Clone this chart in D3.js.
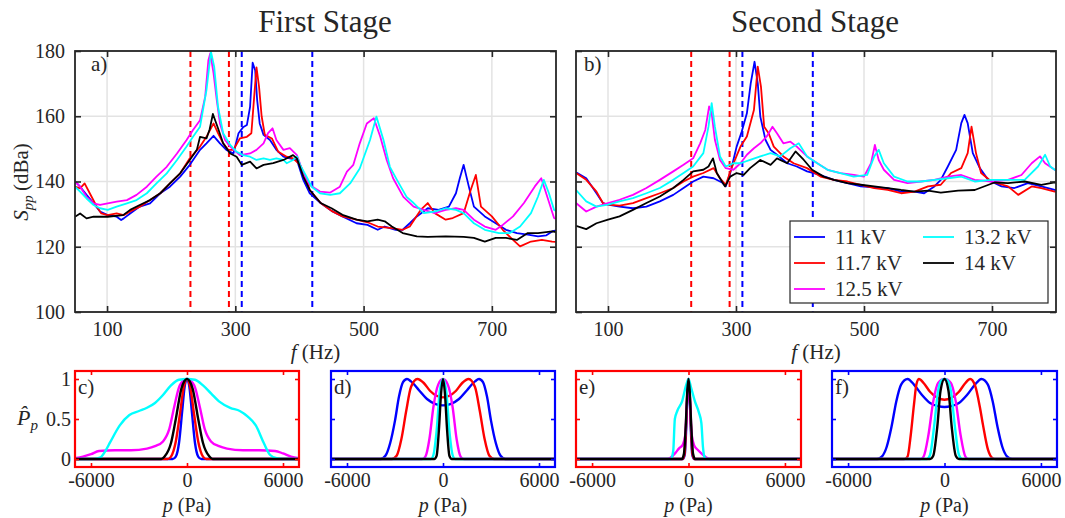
<!DOCTYPE html>
<html><head><meta charset="utf-8">
<script src="https://cdn.jsdelivr.net/npm/d3@7"></script>
<style>
body{margin:0;background:#fff}
svg{display:block}
svg text{font-family:"Liberation Serif","DejaVu Serif","Tinos","Times New Roman","Times","Nimbus Roman","FreeSerif","Noto Serif",serif;fill:#262626}
</style>
</head><body>
<svg id="chart" width="1065" height="518"></svg>
<script>
// ---------------- DATA ----------------
const seriesNames = ['11 kV','11.7 kV','12.5 kV','13.2 kV','14 kV'];
const seriesColors = ['#0000ff','#ff0000','#ff00ff','#00ffff','#000000'];
const freqTicks = [100,300,500,700];
const splTicks = [100,120,140,160,180];
const pTicks = [-6000,0,6000];
const pdfTicks = [0,0.5,1];
const redBand = [230,290];
const blueBand = [310,420];

// Panel a (First Stage) spectra: [f (Hz), S_pp (dBa)]
const aBlue = [[50,140],[58,138.4],[68,135.9],[79,133.3],[89,130.8],[101,129.7],[115,129.2],[122,128.2],[126,128.7],[136,130.2],[151,132.3],[167,133.3],[183,136.4],[198,138.4],[214,141.5],[229,145.1],[245,149.7],[255,151.7],[266,154],[276,151.7],[286,149.7],[297,148.6],[305,154.8],[312,156.6],[318,157.3],[323,162.9],[327,176.4],[331,174],[334,165],[338,157.8],[344,154.3],[354,152.7],[364,149.7],[375,147.6],[385,147.1],[396,146.6],[406,140.5],[416,136.4],[433,133.4],[450,131],[467,129.3],[489,127.2],[506,126.7],[522,125.2],[533,126.2],[550,125.2],[561,125.2],[572,127.2],[583,129.3],[600,131.8],[617,131.3],[633,132.3],[644,136.4],[650,141],[656,145.1],[664,138.5],[672,132.3],[689,129.3],[706,127.2],[722,125.2],[739,124.2],[756,123.7],[772,123.2],[785,123.5],[794,124.7],[800,125]];
const aRed = [[50,138.4],[58,137.9],[65,139.4],[73,136.4],[84,132.3],[91,130.2],[101,129.7],[115,130.2],[126,129.7],[136,130.8],[151,132.3],[167,134.3],[183,136.4],[198,139.4],[214,142.5],[229,147.1],[245,150.7],[255,153.7],[266,157.8],[273,154.8],[281,151.7],[289,149.7],[297,149.7],[307,153.2],[318,153.7],[325,154.8],[329,165],[333,175],[337,169],[341,160],[346,154.3],[357,153.2],[367,149.1],[380,147.6],[390,147.1],[401,145.1],[411,140.5],[416,137.4],[433,133.4],[450,131],[467,129.3],[489,128.3],[506,127.5],[522,126.2],[544,125.7],[561,125.2],[572,126.2],[589,131.3],[600,133.4],[611,130.3],[628,128.3],[639,128.8],[656,130.3],[667,137.4],[675,142],[683,132.3],[700,129.3],[717,125.2],[733,122.1],[744,120.1],[761,121.6],[778,122.1],[794,121.6],[800,121.5]];
const aMag = [[50,140],[58,138.4],[68,135.3],[79,133.3],[89,132.8],[101,133.3],[115,133.8],[131,134.3],[146,135.9],[162,138.4],[177,141.5],[193,144.5],[209,148.6],[224,152.7],[234,155.8],[245,158.8],[253,166],[258,177.2],[261,179.3],[266,173.2],[271,165],[276,157.8],[284,152.7],[292,150.7],[307,148.1],[323,148.6],[333,149.7],[344,151.7],[351,154.8],[358,156.3],[364,152.7],[375,149.7],[385,150.2],[396,148.1],[406,142.5],[416,138.9],[432,136.9],[448,136.6],[463,138.4],[474,143],[484,145.1],[494,151.7],[505,157.8],[516,159.4],[526,153.7],[536,146.6],[546,141],[562,135.3],[578,132.3],[594,131.3],[611,130.3],[628,131.3],[644,131.8],[656,131.3],[672,128.3],[689,126.2],[706,125.2],[717,126.7],[733,129.3],[750,133.4],[767,138.5],[777,141],[783,137.4],[797,128.8],[800,128.5]];
const aCyan = [[50,138.4],[58,136.9],[68,134.8],[79,132.8],[89,131.8],[101,131.3],[115,132.3],[131,133.3],[146,134.3],[162,136.4],[177,139.4],[193,142.5],[209,146.6],[224,150.7],[234,153.7],[245,156.8],[255,168],[262,179.8],[267,175.2],[273,162.9],[281,154.8],[292,151.2],[302,149.1],[312,148.1],[323,147.6],[333,146.6],[344,147.1],[354,146.6],[364,147.1],[375,146.6],[380,145.6],[390,146.6],[396,147.7],[401,145.1],[411,141.5],[419,138.4],[432,136.4],[448,135.9],[463,136.4],[479,139.4],[494,144],[510,152.7],[520,159.9],[531,152.7],[541,144.5],[552,140.5],[567,135.3],[578,133.4],[594,130.3],[611,130.8],[628,131.8],[644,131.3],[656,130.3],[672,127.2],[689,125.2],[711,124.2],[728,124.2],[744,126.2],[761,130.3],[772,135.4],[781,140.5],[789,136.4],[797,131.3],[800,131]];
const aBlack = [[50,129.2],[58,130.2],[68,128.7],[79,129.2],[101,129.2],[125,129.7],[136,131.3],[151,132.8],[167,134.3],[183,136.4],[198,139.4],[214,142.5],[229,146.6],[240,149.7],[245,153.7],[255,153.2],[260,156],[265,160.7],[273,156.3],[281,151.7],[292,148.6],[302,147.6],[310,145.1],[323,146.1],[333,144],[344,145.1],[359,145.6],[375,146.6],[390,148.1],[396,147.1],[406,141.5],[416,137.4],[433,133.4],[450,131.8],[467,129.8],[489,128.3],[506,127.8],[522,128.3],[533,127.8],[544,126.2],[561,124.2],[583,123.2],[600,123],[628,123.2],[656,123],[672,122.7],[689,121.6],[706,122.7],[722,122.7],[739,122.1],[756,124.2],[772,124.2],[794,124.7],[800,124.5]];

// Panel b (Second Stage) spectra
const bBlue = [[50,142.8],[66,141],[82,136.4],[92,133.4],[100,132.9],[118,132.3],[139,131.8],[160,132.3],[181,133.9],[202,135.9],[218,138],[233,140],[249,141.5],[265,141],[278,139.7],[284,138.5],[291,142.6],[301,150.7],[309,155.3],[317,160.9],[323,170.1],[329,176.7],[334,170.1],[338,159.9],[346,152.8],[354,149.7],[364,148.2],[380,145.6],[395,144.6],[411,143.1],[432,142],[453,140.5],[474,139.5],[495,138.5],[516,138.2],[537,138],[558,136.9],[579,136.9],[594,136.4],[610,138.5],[620,140.5],[631,144.6],[644,149.7],[652,157.9],[657,160.4],[662,157.9],[670,148.7],[681,144.1],[694,140.5],[715,138.5],[735,138],[756,139.5],[777,138.5],[798,137.4],[800,137.4]];
const bRed = [[50,142.6],[66,140.5],[82,136.9],[92,133.4],[100,132.9],[118,132.6],[139,133.4],[160,134.9],[181,136.4],[202,138],[218,140],[233,141.5],[249,142.6],[265,144.1],[275,141],[284,139],[294,144.6],[307,150.7],[317,153.8],[328,161.9],[334,175.2],[339,169.1],[344,156.8],[351,154.8],[359,150.7],[374,147.7],[390,145.6],[411,144.1],[432,141.5],[453,140.5],[474,140],[495,139],[516,138],[537,137.4],[558,136.4],[579,136.9],[600,138.5],[620,139],[636,142.6],[652,144.1],[662,148.7],[668,156.8],[675,148.7],[683,142.6],[699,140],[725,138.5],[741,135.9],[762,138.5],[777,138],[798,136.9],[800,136.9]];
const bMag = [[50,133.4],[66,130.8],[82,132.3],[100,133.4],[118,134.4],[139,135.9],[160,138],[181,140.5],[202,143.1],[218,145.1],[233,147.1],[244,151.7],[252,155.8],[258,163],[262,160.9],[267,152.8],[275,146.6],[284,144.1],[296,143.6],[307,145.6],[317,148.2],[328,150.2],[338,151.7],[348,153.8],[357,156.8],[364,154.8],[374,151.7],[385,152.2],[395,150.7],[411,147.7],[427,145.6],[443,143.6],[463,142.6],[484,142],[500,141.5],[511,145.6],[517,151.2],[523,146.6],[531,143.6],[547,140.5],[568,139.5],[589,140],[610,140.5],[631,141.5],[652,142],[673,140.5],[699,140],[725,140.5],[746,142],[762,145.6],[775,147.7],[783,145.6],[798,143.6],[800,143.5]];
const bCyan = [[50,137.4],[66,133.9],[82,132.3],[100,132.9],[118,133.9],[139,134.9],[160,136.4],[181,138],[202,140.5],[218,142.6],[233,144.6],[249,148.7],[257,156.8],[262,164],[267,156.8],[275,147.7],[284,144.6],[296,145.6],[307,145.6],[322,146.6],[338,147.7],[354,148.7],[369,147.7],[385,150.2],[398,151.7],[411,147.7],[427,145.6],[443,143.6],[463,142.6],[484,141.5],[505,142],[516,147.7],[523,149.7],[531,145.6],[547,141.5],[568,140],[589,140],[610,140.5],[631,141],[652,141.5],[673,140],[699,140.5],[725,140.5],[751,140.5],[772,144.6],[783,148.2],[791,144.6],[798,143.6],[800,143.5]];
const bBlack = [[50,126.4],[66,125.4],[82,127.2],[100,128.3],[118,129.3],[139,131.3],[160,133.4],[181,135.4],[202,138],[218,140.5],[233,143.1],[249,143.6],[257,144.6],[264,147.1],[270,142.6],[278,140],[283,138.5],[291,141.5],[301,142.6],[312,142],[322,144.1],[338,146.6],[354,145.1],[364,147.1],[380,145.6],[393,149.2],[406,146.6],[419,143.6],[437,141.5],[453,140.5],[474,139.5],[495,139],[516,138.5],[537,138],[558,137.4],[579,136.9],[600,137.2],[620,136.6],[647,137.2],[673,137.4],[704,139.7],[725,139.5],[751,140],[777,139],[798,139.7],[800,139.7]];

// Normalised pressure PDFs: [p (Pa), P_p]
const cBlue = [[-7000,0],[-900,0],[-700,0.03],[-500,0.2],[-300,0.6],[-150,0.9],[0,1],[150,0.9],[300,0.6],[500,0.2],[700,0.03],[900,0],[7000,0]];
const cRed = [[-7000,0],[-1200,0],[-1000,0.03],[-700,0.22],[-450,0.55],[-200,0.9],[0,1],[200,0.9],[450,0.55],[700,0.22],[1000,0.03],[1200,0],[7000,0]];
const cMag = [[-7000,0.01],[-6500,0.03],[-6000,0.06],[-5500,0.1],[-4500,0.11],[-3500,0.11],[-2500,0.13],[-2000,0.16],[-1500,0.22],[-1100,0.38],[-800,0.65],[-450,0.92],[0,1],[450,0.92],[800,0.65],[1100,0.38],[1500,0.22],[2000,0.16],[2500,0.13],[3500,0.11],[4500,0.11],[5500,0.1],[6000,0.07],[6500,0.03],[7000,0.01]];
const cCyan = [[-7000,0],[-5800,0],[-5400,0.02],[-5100,0.1],[-4800,0.21],[-4200,0.42],[-3600,0.55],[-3000,0.6],[-2500,0.64],[-2000,0.7],[-1500,0.8],[-1000,0.92],[-500,0.99],[0,1],[500,0.99],[1000,0.92],[1500,0.82],[2000,0.72],[2700,0.64],[3300,0.6],[3800,0.53],[4300,0.42],[4800,0.2],[5200,0.05],[5600,0.01],[6000,0],[7000,0]];
const cBlack = [[-7000,0],[-1600,0],[-1400,0.03],[-1000,0.2],[-700,0.5],[-350,0.88],[0,1],[350,0.88],[700,0.5],[1000,0.2],[1400,0.03],[1600,0],[7000,0]];

const dBlue = [[-7000,0],[-3900,0],[-3600,0.04],[-3300,0.2],[-3000,0.48],[-2750,0.78],[-2500,0.96],[-2250,1],[-2000,0.97],[-1500,0.86],[-1000,0.75],[-500,0.69],[0,0.67],[500,0.69],[1000,0.75],[1500,0.86],[2000,0.97],[2250,1],[2500,0.96],[2750,0.78],[3000,0.48],[3300,0.2],[3600,0.04],[3900,0],[7000,0]];
const dRed = [[-7000,0],[-3200,0],[-2900,0.04],[-2600,0.25],[-2300,0.6],[-2000,0.9],[-1600,1],[-1200,0.95],[-800,0.85],[-400,0.79],[0,0.77],[400,0.79],[800,0.85],[1200,0.95],[1600,1],[2000,0.9],[2300,0.6],[2600,0.25],[2900,0.04],[3200,0],[7000,0]];
const dMag = [[-7000,0],[-1300,0],[-1100,0.03],[-850,0.25],[-600,0.65],[-300,0.93],[0,1],[300,0.93],[600,0.65],[850,0.25],[1100,0.03],[1300,0],[7000,0]];
const dCyan = [[-7000,0],[-750,0],[-600,0.05],[-400,0.35],[-200,0.85],[0,1],[200,0.85],[400,0.35],[600,0.05],[750,0],[7000,0]];
const dBlack = [[-7000,0],[-550,0],[-400,0.04],[-260,0.35],[-120,0.82],[0,1],[120,0.82],[260,0.35],[400,0.04],[550,0],[7000,0]];

const eBlue = [[-7000,0],[-350,0],[-230,0.06],[-140,0.4],[-60,0.85],[0,1],[60,0.85],[140,0.4],[230,0.06],[350,0],[7000,0]];
const eRed = [[-7000,0],[-380,0],[-250,0.06],[-150,0.42],[-65,0.86],[0,1],[65,0.86],[150,0.42],[250,0.06],[380,0],[7000,0]];
const eMag = [[-7000,0],[-1300,0],[-1100,0.02],[-800,0.08],[-600,0.13],[-350,0.18],[-200,0.3],[-100,0.7],[0,1],[100,0.7],[200,0.3],[350,0.17],[600,0.11],[800,0.07],[1100,0.02],[1300,0],[7000,0]];
const eCyan = [[-7000,0],[-1100,0],[-950,0.1],[-850,0.5],[-700,0.6],[-400,0.72],[-150,0.92],[0,1],[150,0.9],[400,0.72],[650,0.58],[800,0.45],[900,0.15],[1000,0.02],[1100,0],[7000,0]];
const eBlack = [[-7000,0],[-420,0],[-280,0.07],[-170,0.42],[-75,0.85],[0,1],[75,0.85],[170,0.42],[280,0.07],[420,0],[7000,0]];

const fBlue = [[-7000,0],[-4200,0],[-3900,0.03],[-3600,0.15],[-3300,0.4],[-3000,0.72],[-2700,0.93],[-2300,1],[-1900,0.93],[-1400,0.8],[-900,0.7],[-400,0.66],[0,0.65],[400,0.66],[900,0.7],[1400,0.8],[1900,0.93],[2300,1],[2700,0.93],[3000,0.72],[3300,0.4],[3600,0.15],[3900,0.03],[4200,0],[7000,0]];
const fRed = [[-7000,0],[-2500,0],[-2300,0.03],[-2100,0.3],[-1900,0.68],[-1750,0.93],[-1600,1],[-1300,0.95],[-900,0.84],[-400,0.76],[0,0.74],[400,0.76],[900,0.84],[1300,0.95],[1600,1],[1900,0.92],[2200,0.65],[2400,0.42],[2700,0.12],[3000,0.01],[3200,0],[7000,0]];
const fMag = [[-7000,0],[-1500,0],[-1300,0.03],[-1000,0.3],[-700,0.72],[-400,0.95],[0,1],[400,0.95],[700,0.72],[1000,0.3],[1300,0.03],[1500,0],[7000,0]];
const fCyan = [[-7000,0],[-1100,0],[-900,0.05],[-650,0.4],[-400,0.85],[-200,0.98],[0,1],[200,0.98],[400,0.85],[650,0.4],[900,0.05],[1100,0],[7000,0]];
const fBlack = [[-7000,0],[-900,0],[-700,0.04],[-450,0.4],[-250,0.85],[0,1],[250,0.85],[450,0.4],[700,0.04],[900,0],[7000,0]];

// ---------------- DRAW ----------------
const svg = d3.select('#chart');
const AX = '#262626';
const FONT = '"Liberation Serif","DejaVu Serif","Tinos","Times New Roman","Times","Nimbus Roman","FreeSerif","Noto Serif",serif';

function spectrumPanel(o) {
  const g = svg.append('g');
  const x = d3.scaleLinear().domain([50,800]).range([o.x0,o.x1]);
  const y = d3.scaleLinear().domain([100,180]).range([o.y1,o.y0]);
  g.append('g').selectAll('line').data(freqTicks).join('line')
    .attr('x1',d=>x(d)).attr('x2',d=>x(d)).attr('y1',o.y0).attr('y2',o.y1)
    .attr('stroke','#e3e3e3').attr('stroke-width',1.5);
  g.append('g').selectAll('line').data(splTicks).join('line')
    .attr('x1',o.x0).attr('x2',o.x1).attr('y1',d=>y(d)).attr('y2',d=>y(d))
    .attr('stroke','#e3e3e3').attr('stroke-width',1.5);
  const cid = 'clip'+o.label;
  svg.append('clipPath').attr('id',cid).append('rect')
    .attr('x',o.x0).attr('y',o.y0).attr('width',o.x1-o.x0).attr('height',o.y1-o.y0);
  const inner = g.append('g').attr('clip-path',`url(#${cid})`);
  [[redBand,'#ff0000'],[blueBand,'#0000ff']].forEach(([band,c])=>{
    inner.append('g').selectAll('line').data(band).join('line')
      .attr('x1',d=>x(d)).attr('x2',d=>x(d)).attr('y1',o.y0).attr('y2',o.y1)
      .attr('stroke',c).attr('stroke-width',2).attr('stroke-dasharray','6,4');
  });
  const line = d3.line().x(d=>x(d[0])).y(d=>y(d[1]));
  o.series.forEach((s,i)=>{
    inner.append('path').attr('d',line(s)).attr('fill','none')
      .attr('stroke',seriesColors[i]).attr('stroke-width',1.8).attr('stroke-linejoin','round');
  });
  const xb = g.append('g').attr('transform',`translate(0,${o.y1})`)
    .call(d3.axisBottom(x).tickValues(freqTicks).tickSizeInner(-6).tickSizeOuter(0).tickPadding(10));
  const xt = g.append('g').attr('transform',`translate(0,${o.y0})`)
    .call(d3.axisTop(x).tickValues(freqTicks).tickSizeInner(-6).tickSizeOuter(0).tickFormat(''));
  const yl = g.append('g').attr('transform',`translate(${o.x0},0)`)
    .call(d3.axisLeft(y).tickValues(splTicks).tickSizeInner(-6).tickSizeOuter(0).tickPadding(10)
      .tickFormat(o.yLabels ? d3.format('d') : ''));
  const yr = g.append('g').attr('transform',`translate(${o.x1},0)`)
    .call(d3.axisRight(y).tickValues(splTicks).tickSizeInner(-6).tickSizeOuter(0).tickFormat(''));
  [xb,xt,yl,yr].forEach(a=>{
    a.attr('font-family',null).attr('font-size',null);
    a.select('.domain').remove();
    a.selectAll('line').attr('stroke',AX).attr('stroke-width',1.6);
    a.selectAll('text').attr('fill',AX).style('font-family',FONT).style('font-size','20px');
  });
  g.append('rect').attr('x',o.x0).attr('y',o.y0).attr('width',o.x1-o.x0).attr('height',o.y1-o.y0)
    .attr('fill','none').attr('stroke',AX).attr('stroke-width',1.8);
  g.append('text').attr('x',o.lx).attr('y',71).style('font-size','21px').text(o.label+')');
  const xl = svg.append('text').attr('x',(o.x0+o.x1)/2).attr('y',359).attr('text-anchor','middle').style('font-size','21px');
  xl.append('tspan').style('font-style','italic').text('f');
  xl.append('tspan').text(' (Hz)');
}

spectrumPanel({label:'a',x0:75,x1:556,y0:51,y1:312,lx:91,yLabels:true,series:[aBlue,aRed,aMag,aCyan,aBlack]});
spectrumPanel({label:'b',x0:576,x1:1056,y0:51,y1:312,lx:584,yLabels:false,series:[bBlue,bRed,bMag,bCyan,bBlack]});

svg.append('text').attr('x',325).attr('y',32).attr('text-anchor','middle').style('font-size','31px').text('First Stage');
svg.append('text').attr('x',815).attr('y',32).attr('text-anchor','middle').style('font-size','31px').text('Second Stage');

const ylab = svg.append('text').attr('transform','translate(28,182) rotate(-90)').attr('text-anchor','middle').style('font-size','21px');
ylab.append('tspan').style('font-style','italic').text('S');
ylab.append('tspan').style('font-style','italic').style('font-size','15px').attr('dy',5).text('pp');
ylab.append('tspan').attr('dy',-5).text('\u2009(dBa)');

const leg = svg.append('g');
leg.append('rect').attr('x',790).attr('y',221).attr('width',258).attr('height',82)
  .attr('fill','#fff').attr('stroke',AX).attr('stroke-width',1.2);
const legPos = [[794,237],[794,263],[794,289],[923,237],[923,263]];
seriesNames.forEach((n,i)=>{
  const [lx,ly] = legPos[i];
  leg.append('line').attr('x1',lx).attr('x2',lx+31).attr('y1',ly).attr('y2',ly)
    .attr('stroke',seriesColors[i]).attr('stroke-width',1.8);
  leg.append('text').attr('x',lx+41).attr('y',ly+7).style('font-size','21px').text(n);
});

function pdfPanel(o) {
  const g = svg.append('g');
  const x = d3.scaleLinear().domain([-7000,7000]).range([o.x0,o.x1]);
  const y = d3.scaleLinear().domain([-0.1,1.1]).range([o.y1,o.y0]);
  const cid = 'clip'+o.label;
  svg.append('clipPath').attr('id',cid).append('rect')
    .attr('x',o.x0).attr('y',o.y0).attr('width',o.x1-o.x0).attr('height',o.y1-o.y0);
  const inner = g.append('g').attr('clip-path',`url(#${cid})`);
  const line = d3.line().x(d=>x(d[0])).y(d=>y(d[1])).curve(d3.curveMonotoneX);
  o.series.forEach((s,i)=>{
    inner.append('path').attr('d',line(s)).attr('fill','none')
      .attr('stroke',seriesColors[i]).attr('stroke-width',2.4).attr('stroke-linejoin','round');
  });
  const xb = g.append('g').attr('transform',`translate(0,${o.y1})`)
    .call(d3.axisBottom(x).tickValues(pTicks).tickSizeInner(-4).tickSizeOuter(0).tickPadding(6).tickFormat(d=>d<0?'-'+Math.abs(d):String(d)));
  const xt = g.append('g').attr('transform',`translate(0,${o.y0})`)
    .call(d3.axisTop(x).tickValues(pTicks).tickSizeInner(-4).tickSizeOuter(0).tickFormat(''));
  const yl = g.append('g').attr('transform',`translate(${o.x0},0)`)
    .call(d3.axisLeft(y).tickValues(pdfTicks).tickSizeInner(-4).tickSizeOuter(0).tickPadding(4)
      .tickFormat(o.yLabels ? d3.format('') : ''));
  const yr = g.append('g').attr('transform',`translate(${o.x1},0)`)
    .call(d3.axisRight(y).tickValues(pdfTicks).tickSizeInner(-4).tickSizeOuter(0).tickFormat(''));
  [xb,xt,yl,yr].forEach(a=>{
    a.attr('font-family',null).attr('font-size',null);
    a.select('.domain').remove();
    a.selectAll('line').attr('stroke',o.color).attr('stroke-width',1.6);
    a.selectAll('text').attr('fill',AX).style('font-family',FONT).style('font-size','20px');
  });
  g.append('rect').attr('x',o.x0).attr('y',o.y0).attr('width',o.x1-o.x0).attr('height',o.y1-o.y0)
    .attr('fill','none').attr('stroke',o.color).attr('stroke-width',2.2);
  g.append('text').attr('x',o.x0+3).attr('y',394).style('font-size','21px').text(o.label+')');
  const xl = svg.append('text').attr('x',(o.x0+o.x1)/2).attr('y',512).attr('text-anchor','middle').style('font-size','20px');
  xl.append('tspan').style('font-style','italic').text('p');
  xl.append('tspan').text(' (Pa)');
}

pdfPanel({label:'c',x0:75,x1:299,y0:371,y1:467,color:'#ff0000',yLabels:true,series:[cBlue,cRed,cMag,cCyan,cBlack]});
pdfPanel({label:'d',x0:331,x1:555,y0:371,y1:467,color:'#0000ff',yLabels:false,series:[dBlue,dRed,dMag,dCyan,dBlack]});
pdfPanel({label:'e',x0:576,x1:801,y0:371,y1:467,color:'#ff0000',yLabels:false,series:[eBlue,eRed,eMag,eCyan,eBlack]});
pdfPanel({label:'f',x0:832,x1:1057,y0:371,y1:467,color:'#0000ff',yLabels:false,series:[fBlue,fRed,fMag,fCyan,fBlack]});

const pl = svg.append('text').attr('x',17).attr('y',425).style('font-size','22px');
pl.append('tspan').style('font-style','italic').text('P\u0302');
pl.append('tspan').style('font-style','italic').style('font-size','15px').attr('dy',5).text('p');
</script>
</body></html>
